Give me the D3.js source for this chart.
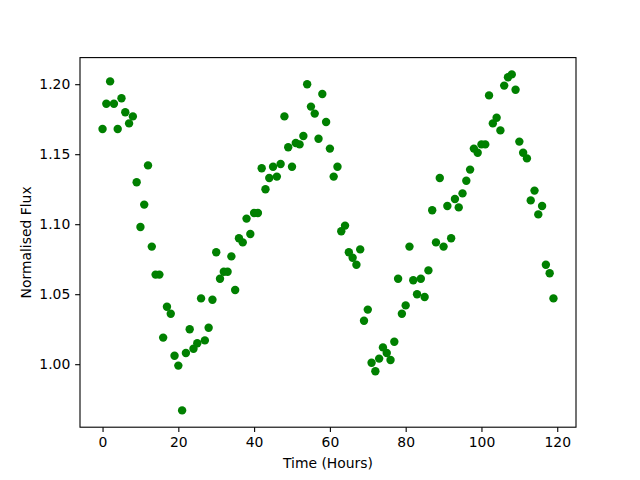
<!DOCTYPE html>
<html>
<head>
<meta charset="utf-8">
<script src="https://cdn.jsdelivr.net/npm/d3@7"></script>
<style>
  html, body { margin: 0; padding: 0; background: #fff; }
  svg { display: block; }
  text { font-family: "DejaVu Sans", sans-serif; }
</style>
</head>
<body>
<svg id="chart" width="640" height="480"></svg>
<script>
const hours = [
  0,1,2,3,4,5,6,7,8,9,10,11,12,13,14,15,16,17,18,19,
  20,21,22,23,24,25,26,27,28,29,30,31,32,33,34,35,36,37,38,39,
  40,41,42,43,44,45,46,47,48,49,50,51,52,53,54,55,56,57,58,59,
  60,61,62,63,64,65,66,67,68,69,70,71,72,73,74,75,76,77,78,79,
  80,81,82,83,84,85,86,87,88,89,90,91,92,93,94,95,96,97,98,99,
  100,101,102,103,104,105,106,107,108,109,110,111,112,113,114,115,116,117,118,119
];
const flux = [
  1.168,1.186,1.202,1.186,1.168,1.190,1.180,1.172,1.177,1.130,
  1.098,1.114,1.142,1.084,1.064,1.064,1.019,1.041,1.036,1.006,
  0.999,0.967,1.008,1.025,1.011,1.015,1.047,1.017,1.026,1.046,
  1.080,1.061,1.066,1.066,1.077,1.053,1.090,1.087,1.104,1.093,
  1.108,1.108,1.140,1.125,1.133,1.141,1.134,1.143,1.177,1.155,
  1.141,1.158,1.157,1.163,1.200,1.184,1.179,1.161,1.193,1.173,
  1.154,1.134,1.141,1.095,1.099,1.080,1.076,1.071,1.082,1.031,
  1.039,1.001,0.995,1.004,1.012,1.008,1.003,1.016,1.061,1.036,
  1.042,1.084,1.060,1.050,1.061,1.048,1.067,1.110,1.087,1.133,
  1.084,1.113,1.090,1.118,1.112,1.122,1.131,1.139,1.154,1.151,
  1.157,1.157,1.192,1.172,1.176,1.167,1.199,1.205,1.207,1.196,
  1.159,1.151,1.147,1.117,1.124,1.107,1.113,1.071,1.065,1.047
];
const xTicks = [0, 20, 40, 60, 80, 100, 120];
const yTicks = [1.00, 1.05, 1.10, 1.15, 1.20];
const xLabel = "Time (Hours)";
const yLabel = "Normalised Flux";

(function () {
  const W = 640, H = 480;
  const mLeft = 80, mRight = 576, mTop = 57.6, mBottom = 427.2;

  function padded(ext) {
    const d = (ext[1] - ext[0]) * 0.05;
    return [ext[0] - d, ext[1] + d];
  }
  const x = d3.scaleLinear().domain(padded(d3.extent(hours))).range([mLeft, mRight]);
  const y = d3.scaleLinear().domain(padded(d3.extent(flux))).range([mBottom, mTop]);

  const svg = d3.select("#chart");
  svg.append("rect").attr("width", W).attr("height", H).attr("fill", "#fff");

  const data = hours.map((h, i) => ({ h, f: flux[i] }));

  svg.append("g")
    .selectAll("circle")
    .data(data)
    .join("circle")
    .attr("cx", d => x(d.h))
    .attr("cy", d => y(d.f))
    .attr("r", 4.2)
    .attr("fill", "#008000");

  const tickLen = 4.86, tickPad = 4.86;

  const xAxis = svg.append("g")
    .attr("transform", `translate(0,${mBottom})`)
    .call(d3.axisBottom(x).tickValues(xTicks).tickFormat(d3.format("d"))
      .tickSizeInner(tickLen).tickSizeOuter(0).tickPadding(tickPad));
  const yAxis = svg.append("g")
    .attr("transform", `translate(${mLeft},0)`)
    .call(d3.axisLeft(y).tickValues(yTicks).tickFormat(d3.format(".2f"))
      .tickSizeInner(tickLen).tickSizeOuter(0).tickPadding(tickPad));

  [xAxis, yAxis].forEach(g => {
    g.select(".domain").remove();
    g.selectAll(".tick line").attr("stroke", "#000").attr("stroke-width", 1.1);
    g.selectAll(".tick text").attr("fill", "#000")
      .style("font-family", "'DejaVu Sans', sans-serif").style("font-size", "13.9px");
  });

  svg.append("rect")
    .attr("x", mLeft).attr("y", mTop)
    .attr("width", mRight - mLeft).attr("height", mBottom - mTop)
    .attr("fill", "none").attr("stroke", "#000").attr("stroke-width", 1.1);

  svg.append("text")
    .attr("x", (mLeft + mRight) / 2).attr("y", 468)
    .attr("text-anchor", "middle")
    .style("font-size", "13.9px").attr("fill", "#000")
    .text(xLabel);

  svg.append("text")
    .attr("transform", `translate(31,${(mTop + mBottom) / 2}) rotate(-90)`)
    .attr("text-anchor", "middle")
    .style("font-size", "13.9px").attr("fill", "#000")
    .text(yLabel);
})();
</script>
</body>
</html>
